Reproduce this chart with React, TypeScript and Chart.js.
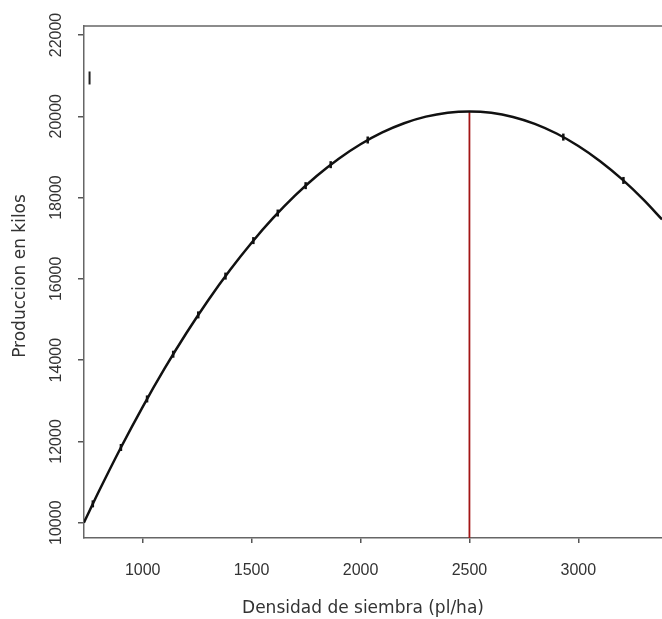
import React, { useEffect, useRef } from "react";
import { Chart, registerables } from "chart.js";

Chart.register(...registerables);

// Fitted production curve (x: sowing density, y: production in kg)
const curveX = [730, 800, 900, 1000, 1100, 1200, 1300, 1400, 1500, 1600, 1700, 1800, 1900, 2000, 2100, 2200, 2300, 2400, 2500, 2600, 2700, 2800, 2900, 3000, 3100, 3200, 3300, 3384];
const curveY = [10001, 10785, 11851, 12852, 13789, 14661, 15469, 16212, 16890, 17504, 18053, 18537, 18957, 19312, 19603, 19829, 19991, 20088, 20120, 20086, 19984, 19814, 19576, 19270, 18896, 18454, 17944, 17463];

// Small tick-like markers along the curve
const markerX = [771, 900, 1020, 1140, 1255, 1380, 1508, 1620, 1748, 1863, 2033, 2931, 3207];
const markerY = [10464, 11851, 13045, 14146, 15113, 16068, 16941, 17619, 18293, 18809, 19416, 19488, 18421];

// Optimum density line
const optimumX = 2500;
const optimumY = 20120;

// Stray mark near top-left
const strayX = [756];
const strayY = [20942];

// Axes
const xMin = 730.5;
const xMax = 3384;
const yMin = 9624;
const yMax = 22221;
const xTicks = [1000, 1500, 2000, 2500, 3000];
const yTicks = [10000, 12000, 14000, 16000, 18000, 20000, 22000];

const xTitle = "Densidad de siembra (pl/ha)";
const yTitle = "Produccion en kilos";

export default function App() {
  const ref = useRef<HTMLCanvasElement | null>(null);

  useEffect(() => {
    if (!ref.current) return;

    const framePlugin = {
      id: "frame",
      afterDraw(chart: any) {
        const { ctx, chartArea } = chart;
        ctx.save();
        ctx.strokeStyle = "#666";
        ctx.lineWidth = 1.5;
        ctx.beginPath();
        ctx.moveTo(chartArea.left, chartArea.top);
        ctx.lineTo(chartArea.right, chartArea.top);
        ctx.stroke();
        ctx.fillStyle = "#333";
        ctx.font = '17px "DejaVu Sans"';
        ctx.textAlign = "center";
        ctx.textBaseline = "middle";
        ctx.fillText(xTitle, 363, 609);
        ctx.translate(21, 276);
        ctx.rotate(-Math.PI / 2);
        ctx.fillText(yTitle, 0, 0);
        ctx.restore();
      },
    };

    const chart = new Chart(ref.current, {
      type: "line",
      data: {
        datasets: [
          {
            label: "curve",
            data: curveX.map((x, i) => ({ x, y: curveY[i] })),
            borderColor: "#111",
            borderWidth: 2.5,
            pointRadius: 0,
            tension: 0.4,
            cubicInterpolationMode: "monotone",
            fill: false,
          },
          {
            label: "markers",
            data: markerX.map((x, i) => ({ x, y: markerY[i] })),
            showLine: false,
            pointStyle: "line",
            rotation: 90,
            pointRadius: 3.5,
            borderColor: "#111",
            borderWidth: 2.5,
          },
          {
            label: "optimum",
            data: [
              { x: optimumX, y: yMin },
              { x: optimumX, y: optimumY },
            ],
            borderColor: "#a31515",
            borderWidth: 1.8,
            pointRadius: 0,
            fill: false,
          },
          {
            label: "stray",
            data: strayX.map((x, i) => ({ x, y: strayY[i] })),
            showLine: false,
            pointStyle: "line",
            rotation: 90,
            pointRadius: 6.5,
            borderColor: "#222",
            borderWidth: 2,
          },
        ],
      },
      options: {
        animation: false,
        responsive: false,
        maintainAspectRatio: false,
        layout: { autoPadding: false, padding: { top: 26, right: 0, left: 0, bottom: 0 } },
        plugins: {
          legend: { display: false },
          tooltip: { enabled: false },
        },
        scales: {
          x: {
            type: "linear",
            min: xMin,
            max: xMax,
            afterBuildTicks: (s: any) => {
              s.ticks = xTicks.map((v) => ({ value: v }));
            },
            afterFit: (s: any) => {
              s.height = 81;
              s.paddingLeft = 0;
              s.paddingRight = 0;
            },
            grid: {
              display: true,
              drawOnChartArea: false,
              drawTicks: true,
              tickLength: 5,
              color: "#555",
              lineWidth: 1.5,
            },
            border: { display: true, color: "#666", width: 1.5 },
            ticks: {
              color: "#333",
              font: { family: '"Liberation Sans", Arial', size: 16 },
              padding: 18,
              maxRotation: 0,
              minRotation: 0,
              autoSkip: false,
              callback: (v: any) => String(v),
            },
          },
          y: {
            type: "linear",
            min: yMin,
            max: yMax,
            afterBuildTicks: (s: any) => {
              s.ticks = yTicks.map((v) => ({ value: v }));
            },
            afterFit: (s: any) => {
              s.width = 84;
              s.paddingTop = 0;
              s.paddingBottom = 0;
            },
            grid: {
              display: true,
              drawOnChartArea: false,
              drawTicks: true,
              tickLength: 6,
              color: "#555",
              lineWidth: 1.5,
            },
            border: { display: true, color: "#666", width: 1.5 },
            ticks: {
              color: "#333",
              font: { family: '"Liberation Sans", Arial', size: 16 },
              padding: -1,
              minRotation: 90,
              maxRotation: 90,
              crossAlign: "center",
              autoSkip: false,
              callback: (v: any) => String(v),
            },
          },
        },
      },
      plugins: [framePlugin],
    } as any);

    return () => chart.destroy();
  }, []);

  return (
    <div style={{ position: "absolute", left: 0, top: 0, width: 662, height: 619, background: "#fff" }}>
      <canvas ref={ref} width={662} height={619} style={{ display: "block" }} />
    </div>
  );
}
